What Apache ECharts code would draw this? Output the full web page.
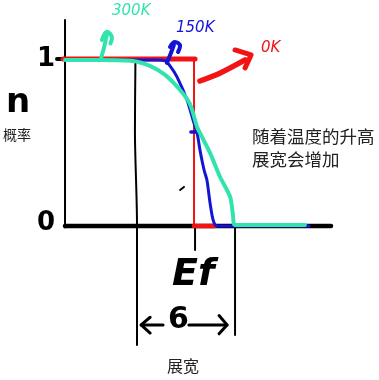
<!DOCTYPE html>
<html><head><meta charset="utf-8">
<script src="https://cdn.jsdelivr.net/npm/echarts@6/dist/echarts.min.js"></script>
<style>html,body{margin:0;padding:0;background:#fff}#c{width:379px;height:380px}</style>
</head><body><div id="c"></div>
<script>
// Energy axis: Fermi level Ef = 5 ; occupation probability n from 0 to 1
var curve300K = [[0,1.0],[1.36,1.0],[2.64,0.994],[3.29,0.964],[3.88,0.91],[4.46,0.819],[4.84,0.735],[5.12,0.596],[5.23,0.56],[5.62,0.44],[6.01,0.295],[6.4,0.175],[6.51,0.066],[6.59,0.006],[7.95,0.006],[9.3,0.006]];
var curve150K = [[0,1.0],[3.6,1.0],[3.88,0.994],[4.07,0.964],[4.34,0.898],[4.73,0.759],[4.96,0.639],[5.12,0.56],[5.23,0.458],[5.39,0.337],[5.5,0.277],[5.58,0.187],[5.62,0.139],[5.74,0.036],[5.89,0],[9.46,0]];
var top0K = [[-0.08,1.006],[5.04,1.006]];
var drop0K = [[5,1.0],[5,0]];
var bottom0K = [[5,0],[5.81,0]];
var tick150K = [[4.88,0.566],[5.16,0.566]];
var axisY = [[0,1.24],[0,-0.01]];
var axisYStub = [[-0.31,1.006],[0,1.006]];
var axisX = [[0,0],[10.31,0]];
var guideLeft = [[2.73,1.0],[2.71,0.578],[2.79,0.006],[2.79,-0.717]];
var guideEf = [[5.04,0],[5.04,-0.145]];
var guideRight = [[6.59,0],[6.59,-0.657]];
var dash = [[4.46,0.217],[4.61,0.235]];
var arrow300K = [[1.4,1.012],[1.52,1.08],[1.63,1.157]];
var arrow300Khead = [[1.43,1.12],[1.63,1.169],[1.82,1.133],[1.76,1.1]];
var arrow150Kstem = [[3.95,0.982],[4.1,1.04],[4.22,1.09]];
var arrow150Khead = [[4.07,1.078],[4.26,1.108],[4.46,1.084],[4.38,1.048]];
var arrow0K = [[5.23,0.873],[6.0,0.92],[6.98,1.0]];
var arrow0Khead = [[6.59,1.06],[7.21,1.03],[6.98,0.952]];
var sigmaLeft = [[2.95,-0.596],[3.8,-0.596]];
var sigmaLeftHead = [[3.3,-0.55],[2.95,-0.596],[3.3,-0.645]];
var sigmaRight = [[4.8,-0.596],[6.28,-0.596]];
var sigmaRightHead = [[5.97,-0.54],[6.28,-0.596],[5.97,-0.65]];

var RED = '#f21414', BLUE = '#1414d6', GREEN = '#33e3ad', BLACK = '#000';
function seg(data, color, width, z, smooth) {
  return {type:'line', data:data, showSymbol:false, symbol:'none', smooth:smooth||false, z:z, silent:true,
    lineStyle:{color:color, width:width, cap:'round', join:'round'}};
}
var chart = echarts.init(document.getElementById('c'), null, {renderer:'canvas'});
chart.setOption({
  animation:false,
  grid:{left:0,right:0,top:0,bottom:0},
  xAxis:{type:'value', min:-2.52, max:12.17, show:false},
  yAxis:{type:'value', min:-0.928, max:1.361, show:false},
  series:[
    seg(axisY, BLACK, 2, 1), seg(axisYStub, BLACK, 4, 1), seg(axisX, BLACK, 4.5, 1),
    seg(guideLeft, BLACK, 2, 1, 0.3), seg(guideEf, BLACK, 2, 1), seg(guideRight, BLACK, 2, 1),
    seg(dash, BLACK, 2, 1),
    seg(top0K, RED, 5, 2), seg(drop0K, RED, 2, 2), seg(bottom0K, RED, 4.5, 2),
    seg(curve150K, BLUE, 3, 3, 0.25), seg(tick150K, BLUE, 3.5, 3),
    seg(curve300K, GREEN, 4, 4, 0.25),
    seg(arrow300K, GREEN, 4, 4, 0.3), seg(arrow300Khead, GREEN, 4, 4, 0.4),
    seg(arrow150Kstem, BLUE, 4, 4, 0.3), seg(arrow150Khead, BLUE, 4, 4, 0.4),
    seg(arrow0K, RED, 5.5, 4, 0.3), seg(arrow0Khead, RED, 5, 4),
    seg(sigmaLeft, BLACK, 3, 1), seg(sigmaLeftHead, BLACK, 3, 1),
    seg(sigmaRight, BLACK, 3, 1), seg(sigmaRightHead, BLACK, 3, 1)
  ],
  graphic:[
    {type:'text', left:112, top:4, style:{text:'300K', fill:GREEN, font:'italic 15px "DejaVu Sans"'}},
    {type:'text', left:176, top:21, style:{text:'150K', fill:BLUE, font:'italic 15px "DejaVu Sans"'}},
    {type:'text', left:261, top:41, style:{text:'0K', fill:RED, font:'italic 15px "DejaVu Sans"'}},
    {type:'text', left:37, top:46, style:{text:'1', fill:BLACK, font:'bold 26px "DejaVu Sans"'}},
    {type:'text', left:6, top:86, style:{text:'n', fill:BLACK, font:'bold 34px "DejaVu Sans"'}},
    {type:'text', left:3, top:128, style:{text:'概率', fill:'#222', font:'14px "Noto Sans CJK SC"'}},
    {type:'text', left:37, top:210, style:{text:'0', fill:BLACK, font:'bold 26px "DejaVu Sans"'}},
    {type:'text', left:172, top:256, style:{text:'Ef', fill:BLACK, font:'bold italic 38px "DejaVu Sans"'}},
    {type:'text', left:168, top:305, style:{text:'6', fill:BLACK, font:'bold 30px "DejaVu Sans"'}},
    {type:'text', left:167, top:358, style:{text:'展宽', fill:'#222', font:'16px "Noto Sans CJK SC"'}},
    {type:'text', left:252, top:128, style:{text:'随着温度的升高', fill:'#222', font:'17.5px "Noto Sans CJK SC"'}},
    {type:'text', left:252, top:151, style:{text:'展宽会增加', fill:'#222', font:'17.5px "Noto Sans CJK SC"'}}
  ]
});
</script></body></html>
